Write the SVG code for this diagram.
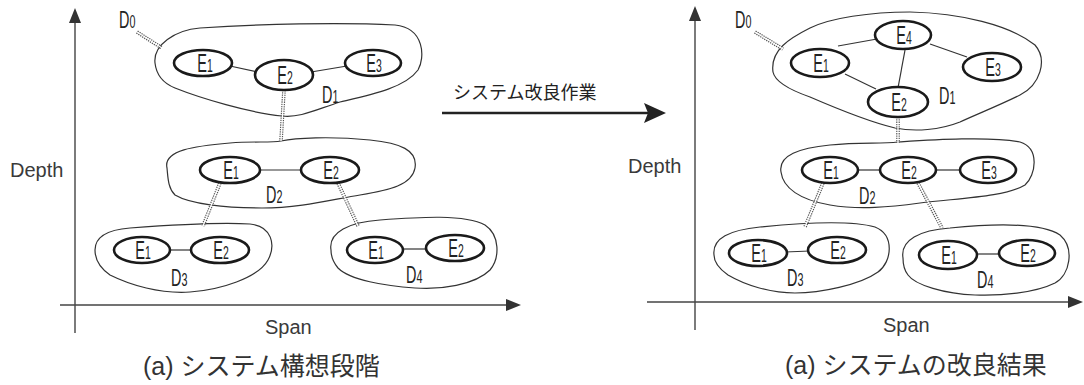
<svg xmlns="http://www.w3.org/2000/svg" xmlns:xlink="http://www.w3.org/1999/xlink" width="1084" height="385" viewBox="0 0 1084 385">
  <style>
    .axis { stroke: #444; stroke-width: 1.4; fill: none; }
    .axhead { fill: #333; stroke: none; }
    .axlbl { font-family: "Liberation Sans", Arial, sans-serif; font-size: 20px; fill: #3a3a3a; }
    .cap { font-family: "Liberation Sans", "Noto Sans CJK JP", sans-serif; font-size: 25px; fill: #333; }
    .mid { font-family: "Noto Sans CJK JP", sans-serif; font-size: 18px; fill: #222; }
    .dom { fill: none; stroke: #333; stroke-width: 1.2; }
    .elem { fill: #fff; stroke: #1a1a1a; stroke-width: 2.6; }
    .link { stroke: #333; stroke-width: 1.2; fill: none; }
    .rail { stroke: #555; stroke-width: 3.6; stroke-dasharray: 1.3 1; fill: none; }
    .gap { stroke: #fff; stroke-width: 1.3; fill: none; }
    .lbl { font-family: "Liberation Sans", Arial, sans-serif; font-size: 25px; fill: #222; text-anchor: middle; }
    .dl { font-family: "Liberation Sans", Arial, sans-serif; font-size: 24px; fill: #222; }
    .sub { font-size: 18px; }
  </style>
  <defs>
    <!-- hierarchy links (drawn as a double dashed rail) -->
    <path id="h1" d="M137,32 L162,48"/>
    <path id="h2" d="M284,90 L281,141"/>
    <path id="h3" d="M220,183 L203,226"/>
    <path id="h4" d="M338,183 L358,226"/>
    <path id="h5" d="M755,32 L783,49"/>
    <path id="h6" d="M898,117 L898,143"/>
    <path id="h7" d="M823,183 L805,227"/>
    <path id="h8" d="M918,183 L942,228"/>
  </defs>

  <rect width="1084" height="385" fill="#fff"/>

  <!-- axes, left chart -->
  <g id="axes-left">
    <line class="axis" x1="75" y1="333" x2="75" y2="20"/>
    <path class="axhead" d="M75,8 L69,23 L81,23 Z"/>
    <line class="axis" x1="60" y1="305" x2="508" y2="305"/>
    <path class="axhead" d="M521,305 L506,299 L506,311 Z"/>
    <text class="axlbl" x="10" y="177">Depth</text>
    <text class="axlbl" x="265" y="334">Span</text>
  </g>

  <!-- axes, right chart -->
  <g id="axes-right">
    <line class="axis" x1="695" y1="330" x2="695" y2="18"/>
    <path class="axhead" d="M695,6 L689,21 L701,21 Z"/>
    <line class="axis" x1="647" y1="302" x2="1070" y2="302"/>
    <path class="axhead" d="M1083,302 L1068,296 L1068,308 Z"/>
    <text class="axlbl" x="628" y="173">Depth</text>
    <text class="axlbl" x="883" y="332">Span</text>
  </g>

  <!-- transition arrow -->
  <g id="transition">
    <text class="mid" x="453" y="99">システム改良作業</text>
    <line x1="442" y1="113" x2="648" y2="113" stroke="#222" stroke-width="2.6"/>
    <path d="M666,113 L644,103 L648,113 L644,123 Z" fill="#222"/>
  </g>

  <!-- domains, left chart -->
  <g id="L-D1"><path class="dom" d="M155,63 C153,45 175,30 200,28 C260,24 340,22 395,25 C425,28 425,58 418,70 C405,88 370,95 340,102 C315,110 300,118 282,116 C250,113 200,98 175,88 C160,82 156,72 155,63 Z"/></g>
  <g id="L-D2"><path class="dom" d="M167,168 C163,150 195,146 230,143 C255,141 270,143 281,141 C295,138 330,136 370,140 C400,143 418,150 415,168 C412,185 390,190 360,195 C330,200 300,208 262,208 C225,208 190,204 175,195 C168,188 168,178 167,168 Z"/></g>
  <g id="L-D3"><path class="dom" d="M95,250 C95,238 105,230 130,228 C170,225 220,222 250,224 C272,226 276,245 268,260 C258,278 220,290 190,292 C160,294 130,285 110,275 C100,268 95,260 95,250 Z"/></g>
  <g id="L-D4"><path class="dom" d="M331,250 C328,232 350,222 380,220 C420,217 465,214 485,225 C500,235 500,258 490,270 C475,285 440,290 415,288 C385,286 350,280 338,268 C333,262 331,256 331,250 Z"/></g>

  <!-- domains, right chart -->
  <g id="R-D1"><path class="dom" d="M773,72 C770,50 790,38 810,28 C830,18 870,12 910,12 C960,13 1010,25 1035,45 C1048,60 1040,85 1020,95 C1000,105 975,115 960,122 C940,130 915,132 895,128 C870,122 840,110 810,97 C790,90 775,82 773,72 Z"/></g>
  <g id="R-D2"><path class="dom" d="M781,172 C778,155 800,148 830,145 C860,142 880,144 898,142 C930,140 990,136 1020,142 C1040,148 1036,175 1025,185 C1005,197 960,198 920,203 C890,207 860,210 830,205 C800,200 783,188 781,172 Z"/></g>
  <g id="R-D3"><path class="dom" d="M714,255 C712,238 730,230 760,227 C800,223 850,220 875,227 C895,235 892,262 878,272 C860,285 820,293 795,293 C770,293 745,285 728,275 C718,268 714,262 714,255 Z"/></g>
  <g id="R-D4"><path class="dom" d="M903,258 C900,240 920,230 950,228 C990,224 1040,222 1060,235 C1075,248 1070,275 1055,283 C1035,293 1000,296 975,295 C945,294 915,285 908,275 C904,270 903,264 903,258 Z"/></g>

  <!-- domain labels -->
  <g id="domain-labels">
    <text class="dl" transform="translate(119 28) scale(0.6 1)">D<tspan class="sub">0</tspan></text>
    <text class="dl" transform="translate(322 103) scale(0.6 1)">D<tspan class="sub">1</tspan></text>
    <text class="dl" transform="translate(266 203) scale(0.6 1)">D<tspan class="sub">2</tspan></text>
    <text class="dl" transform="translate(171 286) scale(0.6 1)">D<tspan class="sub">3</tspan></text>
    <text class="dl" transform="translate(406 283) scale(0.6 1)">D<tspan class="sub">4</tspan></text>
    <text class="dl" transform="translate(735 28) scale(0.6 1)">D<tspan class="sub">0</tspan></text>
    <text class="dl" transform="translate(939 104) scale(0.6 1)">D<tspan class="sub">1</tspan></text>
    <text class="dl" transform="translate(859 204) scale(0.6 1)">D<tspan class="sub">2</tspan></text>
    <text class="dl" transform="translate(787 286) scale(0.6 1)">D<tspan class="sub">3</tspan></text>
    <text class="dl" transform="translate(977 288) scale(0.6 1)">D<tspan class="sub">4</tspan></text>
  </g>

  <!-- connectors -->
  <g id="connectors">
    <use xlink:href="#h1" class="rail"/><use xlink:href="#h1" class="gap"/>
    <use xlink:href="#h2" class="rail"/><use xlink:href="#h2" class="gap"/>
    <use xlink:href="#h3" class="rail"/><use xlink:href="#h3" class="gap"/>
    <use xlink:href="#h4" class="rail"/><use xlink:href="#h4" class="gap"/>
    <use xlink:href="#h5" class="rail"/><use xlink:href="#h5" class="gap"/>
    <use xlink:href="#h6" class="rail"/><use xlink:href="#h6" class="gap"/>
    <use xlink:href="#h7" class="rail"/><use xlink:href="#h7" class="gap"/>
    <use xlink:href="#h8" class="rail"/><use xlink:href="#h8" class="gap"/>
    <!-- element links, left -->
    <line class="link" x1="230" y1="66" x2="258" y2="72"/>
    <line class="link" x1="311" y1="72" x2="347" y2="66"/>
    <line class="link" x1="258" y1="170" x2="303" y2="170"/>
    <line class="link" x1="168" y1="250" x2="193" y2="250"/>
    <line class="link" x1="401" y1="249" x2="428" y2="249"/>
    <!-- element links, right -->
    <line class="link" x1="838" y1="46" x2="877" y2="39"/>
    <line class="link" x1="930" y1="44" x2="967" y2="57"/>
    <line class="link" x1="905" y1="50" x2="898" y2="88"/>
    <line class="link" x1="845" y1="74" x2="876" y2="89"/>
    <line class="link" x1="856" y1="170" x2="882" y2="170"/>
    <line class="link" x1="934" y1="170" x2="962" y2="170"/>
    <line class="link" x1="785" y1="252" x2="810" y2="251"/>
    <line class="link" x1="975" y1="254" x2="1001" y2="254"/>
  </g>

  <!-- elements, left chart -->
  <g id="L-D1-E1"><ellipse class="elem" cx="203" cy="63" rx="29" ry="13"/><text class="lbl" transform="translate(205 63) scale(0.58 1)" y="9">E<tspan class="sub">1</tspan></text></g>
  <g id="L-D1-E2"><ellipse class="elem" cx="284" cy="75" rx="29" ry="15"/><text class="lbl" transform="translate(285 75) scale(0.58 1)" y="9">E<tspan class="sub">2</tspan></text></g>
  <g id="L-D1-E3"><ellipse class="elem" cx="373" cy="63" rx="28" ry="13"/><text class="lbl" transform="translate(374 63) scale(0.58 1)" y="9">E<tspan class="sub">3</tspan></text></g>
  <g id="L-D2-E1"><ellipse class="elem" cx="230" cy="170" rx="30" ry="13"/><text class="lbl" transform="translate(231 170) scale(0.58 1)" y="9">E<tspan class="sub">1</tspan></text></g>
  <g id="L-D2-E2"><ellipse class="elem" cx="330" cy="170" rx="29" ry="13"/><text class="lbl" transform="translate(331 170) scale(0.58 1)" y="9">E<tspan class="sub">2</tspan></text></g>
  <g id="L-D3-E1"><ellipse class="elem" cx="142" cy="250" rx="28" ry="13"/><text class="lbl" transform="translate(143 250) scale(0.58 1)" y="9">E<tspan class="sub">1</tspan></text></g>
  <g id="L-D3-E2"><ellipse class="elem" cx="220" cy="250" rx="29" ry="13"/><text class="lbl" transform="translate(221 250) scale(0.58 1)" y="9">E<tspan class="sub">2</tspan></text></g>
  <g id="L-D4-E1"><ellipse class="elem" cx="375" cy="250" rx="28" ry="13"/><text class="lbl" transform="translate(376 250) scale(0.58 1)" y="9">E<tspan class="sub">1</tspan></text></g>
  <g id="L-D4-E2"><ellipse class="elem" cx="455" cy="248" rx="29" ry="13"/><text class="lbl" transform="translate(456 248) scale(0.58 1)" y="9">E<tspan class="sub">2</tspan></text></g>

  <!-- elements, right chart -->
  <g id="R-D1-E4"><ellipse class="elem" cx="903" cy="35" rx="28" ry="14"/><text class="lbl" transform="translate(904 35) scale(0.58 1)" y="9">E<tspan class="sub">4</tspan></text></g>
  <g id="R-D1-E1"><ellipse class="elem" cx="820" cy="63" rx="29" ry="14"/><text class="lbl" transform="translate(821 63) scale(0.58 1)" y="9">E<tspan class="sub">1</tspan></text></g>
  <g id="R-D1-E3"><ellipse class="elem" cx="992" cy="67" rx="29" ry="14"/><text class="lbl" transform="translate(993 67) scale(0.58 1)" y="9">E<tspan class="sub">3</tspan></text></g>
  <g id="R-D1-E2"><ellipse class="elem" cx="898" cy="102" rx="30" ry="15"/><text class="lbl" transform="translate(899 102) scale(0.58 1)" y="9">E<tspan class="sub">2</tspan></text></g>
  <g id="R-D2-E1"><ellipse class="elem" cx="830" cy="170" rx="28" ry="13"/><text class="lbl" transform="translate(831 170) scale(0.58 1)" y="9">E<tspan class="sub">1</tspan></text></g>
  <g id="R-D2-E2"><ellipse class="elem" cx="908" cy="170" rx="28" ry="13"/><text class="lbl" transform="translate(909 170) scale(0.58 1)" y="9">E<tspan class="sub">2</tspan></text></g>
  <g id="R-D2-E3"><ellipse class="elem" cx="988" cy="170" rx="28" ry="13"/><text class="lbl" transform="translate(989 170) scale(0.58 1)" y="9">E<tspan class="sub">3</tspan></text></g>
  <g id="R-D3-E1"><ellipse class="elem" cx="758" cy="253" rx="29" ry="13"/><text class="lbl" transform="translate(759 253) scale(0.58 1)" y="9">E<tspan class="sub">1</tspan></text></g>
  <g id="R-D3-E2"><ellipse class="elem" cx="837" cy="250" rx="29" ry="13"/><text class="lbl" transform="translate(838 250) scale(0.58 1)" y="9">E<tspan class="sub">2</tspan></text></g>
  <g id="R-D4-E1"><ellipse class="elem" cx="948" cy="255" rx="29" ry="14"/><text class="lbl" transform="translate(949 255) scale(0.58 1)" y="9">E<tspan class="sub">1</tspan></text></g>
  <g id="R-D4-E2"><ellipse class="elem" cx="1027" cy="253" rx="28" ry="13"/><text class="lbl" transform="translate(1028 253) scale(0.58 1)" y="9">E<tspan class="sub">2</tspan></text></g>

  <!-- captions -->
  <text class="cap" x="143" y="375">(a) システム構想段階</text>
  <text class="cap" x="785" y="374">(a) システムの改良結果</text>
</svg>
